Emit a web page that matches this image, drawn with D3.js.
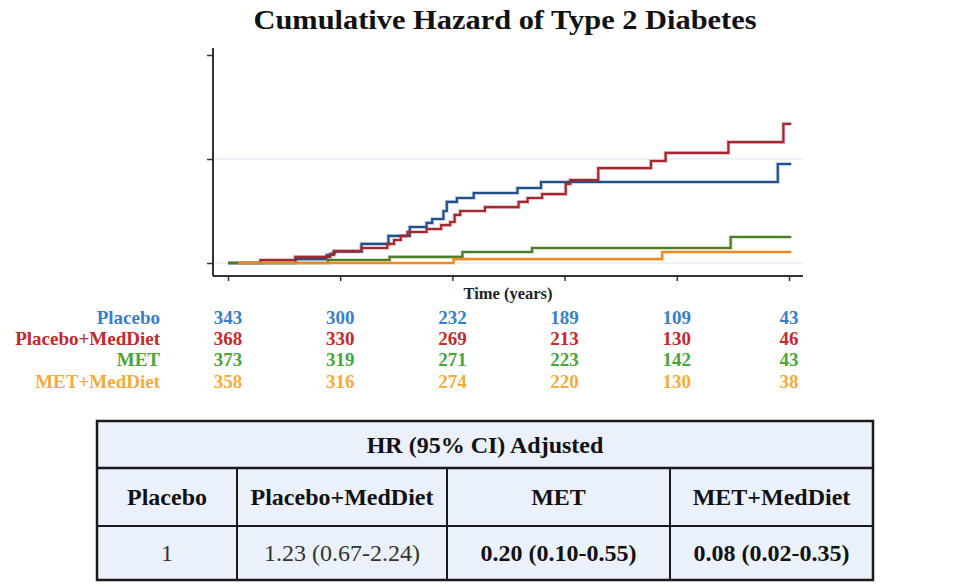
<!DOCTYPE html>
<html><head><meta charset="utf-8">
<script src="https://cdn.jsdelivr.net/npm/d3@7"></script>
<style>body{margin:0;background:#fff;} svg{display:block;}</style>
</head><body><svg id="c" width="960" height="587"></svg>
<script>
// ---------- data ----------
const yearTicks = [0, 1, 2, 3, 4, 5];
const hazardTicks = [0, 0.1, 0.2];
const gridTicks = [0, 0.1];
const groups = ["Placebo", "Placebo+MedDiet", "MET", "MET+MedDiet"];

const placeboTime = [0, 0.60, 0.88, 0.94, 1.19, 1.43, 1.62, 1.77, 1.82, 1.92, 1.95, 2.04, 2.19, 2.58, 2.79, 4.90, 5.02];
const placeboHaz  = [0, 0.0038, 0.0077, 0.0110, 0.0183, 0.0260, 0.0346, 0.0385, 0.0423, 0.0500, 0.0587, 0.0625, 0.0673, 0.0721, 0.0779, 0.0952, 0.0952];

const medDietTime = [0, 0.29, 0.60, 0.91, 0.95, 1.19, 1.42, 1.48, 1.54, 1.60, 1.77, 1.90, 1.98, 2.02, 2.07, 2.29, 2.59, 2.67, 2.80, 3.01, 3.05, 3.30, 3.77, 3.90, 4.46, 4.95, 5.02];
const medDietHaz  = [0, 0.0029, 0.0058, 0.0087, 0.0115, 0.0144, 0.0183, 0.0221, 0.0260, 0.0298, 0.0327, 0.0365, 0.0394, 0.0462, 0.0500, 0.0538, 0.0587, 0.0625, 0.0663, 0.0760, 0.0798, 0.0913, 0.0981, 0.1058, 0.1163, 0.1337, 0.1337];

const metTime = [0, 0.89, 1.44, 2.09, 2.71, 4.48, 5.02];
const metHaz  = [0, 0.0029, 0.0058, 0.0106, 0.0144, 0.0250, 0.0250];

const metMedTime = [0.09, 2.01, 3.87, 5.02];
const metMedHaz  = [0, 0.0038, 0.0106, 0.0106];

const riskPlacebo = [343, 300, 232, 189, 109, 43];
const riskMedDiet = [368, 330, 269, 213, 130, 46];
const riskMet     = [373, 319, 271, 223, 142, 43];
const riskMetMed  = [358, 316, 274, 220, 130, 38];

const hrHeader = "HR (95% CI) Adjusted";
const hrValues = ["1", "1.23 (0.67-2.24)", "0.20 (0.10-0.55)", "0.08 (0.02-0.35)"];
const hrBold   = [false, false, true, true];

// ---------- styles ----------
const lineColors = ["#24508a", "#a3282f", "#4c7e2a", "#f0891d"];
const textColors = ["#3a7fc8", "#c22a2e", "#4ca33b", "#f6ab3c"];
const serif = "'Liberation Serif', 'Times New Roman', serif";

const svg = d3.select("#c");

const x = d3.scaleLinear().domain([0, 5]).range([228, 789]);
const y = d3.scaleLinear().domain([0, 0.2]).range([263, 55]);
const axisLeftX = 213, axisRightX = 803, axisBottomY = 276, axisTopY = 48;

// title
svg.append("text").attr("x", 505).attr("y", 29).attr("text-anchor", "middle")
  .attr("font-family", serif).attr("font-weight", "bold").attr("font-size", 27.5)
  .attr("textLength", 503).attr("lengthAdjust", "spacingAndGlyphs")
  .attr("fill", "#111").text("Cumulative Hazard of Type 2 Diabetes");

// gridlines
svg.append("g").selectAll("line").data(gridTicks).join("line")
  .attr("x1", axisLeftX).attr("x2", axisRightX)
  .attr("y1", d => y(d)).attr("y2", d => y(d))
  .attr("stroke", "#e4ecf3").attr("stroke-width", 1.5);

// y axis
const gy = svg.append("g").attr("transform", `translate(${axisLeftX},0)`)
  .call(d3.axisLeft(y).tickValues(hazardTicks).tickFormat("").tickSize(6).tickSizeOuter(0));
gy.select(".domain").attr("d", `M0,${axisTopY}V${axisBottomY}`).attr("stroke", "#333").attr("stroke-width", 2);
gy.selectAll(".tick line").attr("stroke", "#333").attr("stroke-width", 1.5);

// x axis
const gx = svg.append("g").attr("transform", `translate(0,${axisBottomY})`)
  .call(d3.axisBottom(x).tickValues(yearTicks).tickFormat("").tickSize(5).tickSizeOuter(0));
gx.select(".domain").attr("d", `M${axisLeftX},0H${axisRightX}`).attr("stroke", "#333").attr("stroke-width", 2);
gx.selectAll(".tick line").attr("stroke", "#333").attr("stroke-width", 1.5);

svg.append("text").attr("x", 508).attr("y", 299).attr("text-anchor", "middle")
  .attr("font-family", serif).attr("font-weight", "bold").attr("font-size", 16.5)
  .attr("fill", "#222").text("Time (years)");

// curves
const series = [
  {t: placeboTime, h: placeboHaz},
  {t: medDietTime, h: medDietHaz},
  {t: metTime, h: metHaz},
  {t: metMedTime, h: metMedHaz}
];
const line = d3.line().curve(d3.curveStepAfter).x(d => x(d[0])).y(d => y(d[1]));
series.forEach((s, i) => {
  const pts = s.t.map((t, k) => [t, s.h[k]]);
  svg.append("path").attr("d", line(pts)).attr("fill", "none")
    .attr("stroke", lineColors[i]).attr("stroke-opacity", 0.25).attr("stroke-width", 4);
  svg.append("path").attr("d", line(pts)).attr("fill", "none")
    .attr("stroke", lineColors[i]).attr("stroke-width", 2.2);
});

// number at risk
const risks = [riskPlacebo, riskMedDiet, riskMet, riskMetMed];
const rowY = [324, 345, 366, 388];
groups.forEach((g, i) => {
  svg.append("text").attr("x", 160).attr("y", rowY[i]).attr("text-anchor", "end")
    .attr("font-family", serif).attr("font-weight", "bold").attr("font-size", 19)
    .attr("fill", textColors[i]).text(g);
  svg.append("g").selectAll("text").data(risks[i]).join("text")
    .attr("x", (d, k) => x(yearTicks[k])).attr("y", rowY[i]).attr("text-anchor", "middle")
    .attr("font-family", serif).attr("font-weight", "bold").attr("font-size", 19)
    .attr("fill", textColors[i]).text(d => d);
});

// HR table
const tL = 97, tR = 873, tT = 421, tB = 580;
const colX = [97, 237, 447, 670, 873];
const rowLines = [421, 468, 526, 580];
const tbl = svg.append("g");
tbl.append("rect").attr("x", tL).attr("y", tT).attr("width", tR - tL).attr("height", tB - tT)
  .attr("fill", "#eaf1fa").attr("stroke", "#1a1a1a").attr("stroke-width", 2.5);
tbl.append("line").attr("x1", tL).attr("x2", tR).attr("y1", rowLines[1]).attr("y2", rowLines[1])
  .attr("stroke", "#1a1a1a").attr("stroke-width", 2.5);
tbl.append("line").attr("x1", tL).attr("x2", tR).attr("y1", rowLines[2]).attr("y2", rowLines[2])
  .attr("stroke", "#1a1a1a").attr("stroke-width", 2);
colX.slice(1, 4).forEach(cx => {
  tbl.append("line").attr("x1", cx).attr("x2", cx).attr("y1", rowLines[1]).attr("y2", tB)
    .attr("stroke", "#1a1a1a").attr("stroke-width", 2);
});
tbl.append("text").attr("x", (tL + tR) / 2).attr("y", (rowLines[0] + rowLines[1]) / 2 + 8)
  .attr("text-anchor", "middle").attr("font-family", serif).attr("font-weight", "bold")
  .attr("font-size", 24).attr("fill", "#111").text(hrHeader);
groups.forEach((g, i) => {
  const cx = (colX[i] + colX[i + 1]) / 2;
  tbl.append("text").attr("x", cx).attr("y", (rowLines[1] + rowLines[2]) / 2 + 8)
    .attr("text-anchor", "middle").attr("font-family", serif).attr("font-weight", "bold")
    .attr("font-size", 24).attr("fill", "#111").text(g);
  tbl.append("text").attr("x", cx).attr("y", (rowLines[2] + rowLines[3]) / 2 + 8)
    .attr("text-anchor", "middle").attr("font-family", serif)
    .attr("font-weight", hrBold[i] ? "bold" : "normal")
    .attr("font-size", 24).attr("fill", hrBold[i] ? "#111" : "#333").text(hrValues[i]);
});
</script></body></html>
